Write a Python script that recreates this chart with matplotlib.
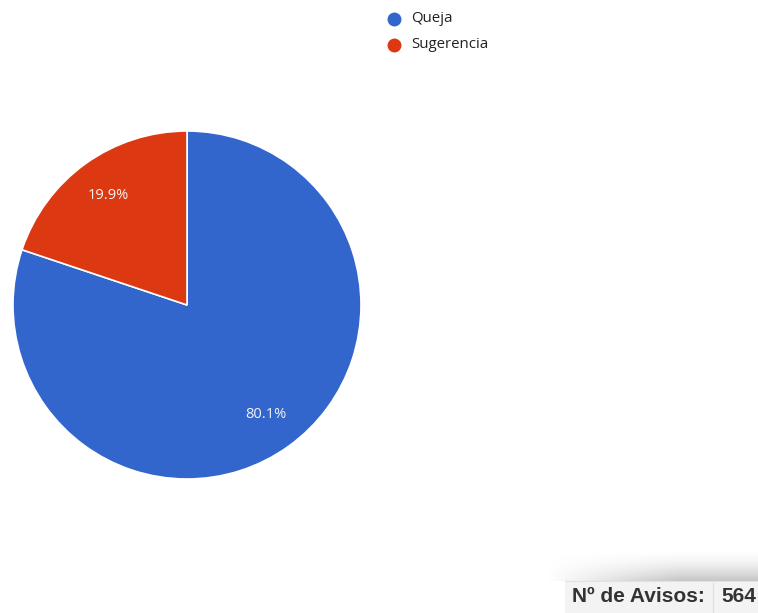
import matplotlib
matplotlib.use("Agg")
import matplotlib.pyplot as plt
import numpy as np
from matplotlib.patches import Rectangle

categories = ["Queja", "Sugerencia"]
counts = [452, 112]
colors = ["#3366cc", "#dc3912"]
total_label = "Nº de Avisos:"

W, H = 758, 613
fig = plt.figure(figsize=(W / 100, H / 100), dpi=100)
fig.patch.set_facecolor("white")

# Pie chart
ax = fig.add_axes([13 / W, 1 - 479 / H, 348 / W, 348 / H])
wedges, texts, autotexts = ax.pie(
    counts, colors=colors, startangle=90, counterclock=False,
    autopct="%1.1f%%", pctdistance=0.775,
    wedgeprops=dict(edgecolor="white", linewidth=1.2),
    textprops=dict(color="#f4f4f4", fontsize=10.5, family="Open Sans"),
)
ax.set_aspect("equal")
ax.set_xlim(-1, 1)
ax.set_ylim(-1, 1)

# Overlay in pixel coordinates for legend and counter box
ov = fig.add_axes([0, 0, 1, 1])
ov.set_xlim(0, W)
ov.set_ylim(H, 0)
ov.axis("off")

for i, (cat, col) in enumerate(zip(categories, colors)):
    y = 19 + i * 26
    ov.plot(394, y, marker="o", markersize=9, color=col, linestyle="none")
    ov.text(411, y, cat, fontsize=10.8, family="Open Sans", color="#222222",
            va="center", ha="left")

# Counter box with soft shadow above and to the left
ny, nx = 40, 60
gy = np.linspace(0, 1, ny)[:, None] ** 1.6
gx = np.clip(np.linspace(0, 1.6, nx), 0, 1)[None, :]
shadow = np.ones((ny, nx, 4))
shadow[..., :3] = 0.55
shadow[..., 3] = (gy * gx) * 0.5
ov.imshow(shadow, extent=[545, W, 581, 550], aspect="auto", zorder=1,
          interpolation="bilinear")
ov.add_patch(Rectangle((565, 581), W - 565, H - 581, facecolor="#f3f3f3",
                       edgecolor="none", zorder=2))
ov.plot([565, W], [581, 581], color="#e2e2e2", linewidth=0.8, zorder=3)
ov.plot([713, 713], [583, H], color="#e0e0e0", linewidth=1, zorder=3)
ov.text(572, 597, total_label, fontsize=15, fontweight="bold",
        family="Liberation Sans", color="#333333", va="center", ha="left",
        zorder=4)
ov.text(721, 597, str(sum(counts)), fontsize=15, fontweight="bold",
        family="Liberation Sans", color="#333333", va="center", ha="left",
        zorder=4)
ov.set_xlim(0, W)
ov.set_ylim(H, 0)

fig.savefig("out.png", dpi=100, facecolor="white")
